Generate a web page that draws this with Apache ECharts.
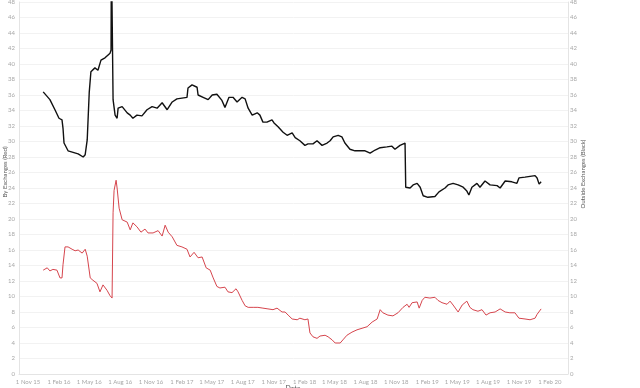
<!DOCTYPE html>
<html>
<head>
<meta charset="utf-8">
<script src="https://cdn.jsdelivr.net/npm/echarts@6/dist/echarts.min.js"></script>
<style>html,body{margin:0;padding:0;background:#fff}#c{width:640px;height:388px}</style>
</head>
<body>
<div id="c"></div>
<script>
// ---- data ----
var blackDates = ['2015-12-16','2016-01-05','2016-01-20','2016-02-01','2016-02-10','2016-02-13','2016-02-16','2016-02-28','2016-03-14','2016-03-29','2016-04-13','2016-04-19','2016-04-25','2016-05-01','2016-05-06','2016-05-18','2016-05-27','2016-06-05','2016-06-17','2016-07-02','2016-07-05','2016-07-06','2016-07-11','2016-07-17','2016-07-23','2016-07-26','2016-08-07','2016-08-22','2016-08-31','2016-09-08','2016-09-20','2016-10-05','2016-10-20','2016-11-04','2016-11-19','2016-12-04','2016-12-19','2017-01-03','2017-01-17','2017-02-01','2017-02-16','2017-02-19','2017-03-03','2017-03-18','2017-03-21','2017-04-05','2017-04-20','2017-05-02','2017-05-16','2017-05-31','2017-06-09','2017-06-21','2017-07-03','2017-07-15','2017-07-30','2017-08-08','2017-08-17','2017-08-29','2017-09-13','2017-09-21','2017-09-30','2017-10-12','2017-10-27','2017-11-02','2017-11-14','2017-11-29','2017-12-11','2017-12-26','2018-01-04','2018-01-18','2018-02-02','2018-02-11','2018-02-26','2018-03-10','2018-03-25','2018-04-09','2018-04-18','2018-04-27','2018-05-12','2018-05-23','2018-06-01','2018-06-16','2018-07-01','2018-07-16','2018-07-31','2018-08-15','2018-08-30','2018-09-14','2018-10-04','2018-10-19','2018-10-28','2018-11-12','2018-11-27','2018-11-29','2018-12-12','2018-12-21','2019-01-02','2019-01-11','2019-01-20','2019-02-03','2019-02-24','2019-03-08','2019-03-26','2019-04-04','2019-04-19','2019-05-04','2019-05-19','2019-05-30','2019-06-05','2019-06-14','2019-06-29','2019-07-08','2019-07-23','2019-08-07','2019-08-28','2019-09-06','2019-09-21','2019-10-11','2019-10-26','2019-11-01','2019-11-19','2019-12-04','2019-12-19','2019-12-25','2019-12-31','2020-01-06'];
var blackValues = [36.4,35.4,34.1,33.0,32.8,31.7,29.8,28.8,28.6,28.4,28.0,28.3,30.2,36.3,39.0,39.5,39.2,40.5,40.8,41.4,41.8,55,35.4,33.4,33.0,34.3,34.5,33.7,33.4,33.0,33.4,33.3,34.1,34.5,34.3,35.0,34.1,35.1,35.5,35.6,35.7,36.9,37.3,37.0,36.0,35.7,35.4,36.0,36.1,35.3,34.4,35.7,35.7,35.1,35.7,35.5,34.3,33.4,33.7,33.4,32.5,32.5,32.8,32.4,31.9,31.2,30.8,31.1,30.5,30.1,29.5,29.7,29.7,30.1,29.5,29.8,30.1,30.6,30.8,30.6,29.8,29.0,28.8,28.8,28.8,28.5,28.9,29.2,29.3,29.4,29.0,29.5,29.8,24.1,24.0,24.4,24.6,24.1,23.0,22.8,22.9,23.5,24.0,24.4,24.6,24.4,24.1,23.6,23.1,24.1,24.6,24.1,24.9,24.4,24.3,24.0,24.9,24.8,24.6,25.3,25.4,25.5,25.6,25.3,24.5,24.8];

var redDates = ['2015-12-16','2015-12-28','2016-01-05','2016-01-14','2016-01-26','2016-02-04','2016-02-10','2016-02-13','2016-02-19','2016-02-28','2016-03-11','2016-03-20','2016-03-29','2016-04-10','2016-04-19','2016-04-25','2016-05-04','2016-05-12','2016-05-24','2016-06-02','2016-06-11','2016-06-23','2016-07-02','2016-07-08','2016-07-11','2016-07-14','2016-07-20','2016-07-23','2016-07-29','2016-08-07','2016-08-22','2016-08-31','2016-09-08','2016-09-20','2016-10-02','2016-10-14','2016-10-23','2016-11-07','2016-11-22','2016-12-04','2016-12-13','2016-12-22','2017-01-03','2017-01-17','2017-02-01','2017-02-16','2017-02-25','2017-03-09','2017-03-21','2017-04-02','2017-04-14','2017-04-26','2017-05-05','2017-05-16','2017-05-25','2017-06-09','2017-06-18','2017-06-30','2017-07-12','2017-07-18','2017-07-30','2017-08-08','2017-08-17','2017-09-01','2017-09-15','2017-09-30','2017-10-15','2017-10-30','2017-11-11','2017-11-26','2017-12-05','2017-12-14','2017-12-26','2018-01-10','2018-01-18','2018-02-02','2018-02-11','2018-02-17','2018-02-26','2018-03-10','2018-03-19','2018-04-03','2018-04-12','2018-04-24','2018-05-03','2018-05-18','2018-05-26','2018-06-07','2018-06-22','2018-07-07','2018-07-22','2018-08-06','2018-08-21','2018-09-05','2018-09-14','2018-09-22','2018-10-07','2018-10-22','2018-11-06','2018-11-21','2018-12-03','2018-12-09','2018-12-18','2019-01-02','2019-01-08','2019-01-17','2019-01-25','2019-02-09','2019-02-24','2019-03-05','2019-03-17','2019-04-01','2019-04-10','2019-04-19','2019-05-04','2019-05-16','2019-05-30','2019-06-08','2019-06-17','2019-07-02','2019-07-14','2019-07-26','2019-08-07','2019-08-22','2019-09-06','2019-09-21','2019-10-05','2019-10-20','2019-11-01','2019-11-19','2019-12-04','2019-12-19','2019-12-25','2020-01-06'];
var redValues = [13.4,13.7,13.3,13.5,13.4,12.4,12.4,14.1,16.4,16.4,16.1,15.9,16.0,15.6,16.1,15.2,12.4,12.1,11.7,10.6,11.5,10.8,10.1,9.8,20.8,23.7,25.0,24.0,21.4,19.9,19.6,18.6,19.5,19.0,18.3,18.7,18.2,18.2,18.5,17.8,19.2,18.3,17.7,16.6,16.4,16.1,15.1,15.7,15.0,15.1,13.7,13.4,12.4,11.3,11.1,11.2,10.6,10.5,11.0,10.6,9.5,8.8,8.6,8.6,8.6,8.5,8.4,8.3,8.5,8.0,8.0,7.6,7.1,7.0,7.2,7.0,7.1,5.3,4.8,4.6,4.9,5.0,4.8,4.4,4.0,4.0,4.4,5.0,5.4,5.7,5.9,6.1,6.7,7.1,8.3,7.9,7.6,7.5,7.9,8.6,9.0,8.6,9.2,9.3,8.5,9.5,9.9,9.8,9.9,9.5,9.2,9.0,9.4,8.9,8.0,8.9,9.4,8.6,8.3,8.1,8.3,7.6,7.9,8.0,8.4,8.0,7.9,7.9,7.2,7.1,7.0,7.2,7.7,8.4];

var tickDates = ['2015-11-01','2016-02-01','2016-05-01','2016-08-01','2016-11-01','2017-02-01','2017-05-01','2017-08-01','2017-11-01','2018-02-01','2018-05-01','2018-08-01','2018-11-01','2019-02-01','2019-05-01','2019-08-01','2019-11-01','2020-02-01'];
var tickLabels = ['1 Nov 15','1 Feb 16','1 May 16','1 Aug 16','1 Nov 16','1 Feb 17','1 May 17','1 Aug 17','1 Nov 17','1 Feb 18','1 May 18','1 Aug 18','1 Nov 18','1 Feb 19','1 May 19','1 Aug 19','1 Nov 19','1 Feb 20'];

var leftTitle = 'By Exchanges (Red)';
var rightTitle = 'Outside Exchanges (Black)';
var xTitle = 'Date';

// ---- build ----
function ts(s){ var p = s.split('-'); return Date.UTC(+p[0], +p[1]-1, +p[2]); }
var tickTs = tickDates.map(ts);
function zip(d, v){ return d.map(function(x,i){ return [ts(x), v[i]]; }); }
function labelFor(v){
  var best=0,bd=Infinity;
  tickTs.forEach(function(t,j){var d=Math.abs(t-v); if(d<bd){bd=d;best=j;}});
  return bd < 86400000 ? tickLabels[best] : '';
}

var chart = echarts.init(document.getElementById('c'), null, {renderer:'canvas'});
var labelStyle = {color:'#a8a8a8', fontSize:6, fontFamily:'Lato, "Open Sans", sans-serif'};
chart.setOption({
  animation:false,
  backgroundColor:'#ffffff',
  grid:{left:19, right:72, top:2, bottom:14, containLabel:false, outerBoundsMode:'none'},
  xAxis:{
    type:'value',
    scale:true,
    min: ts('2015-10-05'), max: ts('2020-03-26'),
    axisLine:{show:true, onZero:false, lineStyle:{color:'#e4e4e4', width:1}},
    axisTick:{show:false},
    splitLine:{show:false},
    axisLabel:Object.assign({
      customValues: tickTs,
      hideOverlap:false,
      margin:5,
      formatter:labelFor
    }, labelStyle)
  },
  yAxis:[
    {type:'value', min:0, max:48, interval:2, position:'left',
     axisLine:{show:true, lineStyle:{color:'#e4e4e4'}}, axisTick:{show:false},
     splitLine:{show:true, lineStyle:{color:'#f2f2f2', width:1}},
     axisLabel:Object.assign({margin:4}, labelStyle)},
    {type:'value', min:0, max:48, interval:2, position:'right',
     axisLine:{show:true, lineStyle:{color:'#e4e4e4'}}, axisTick:{show:false},
     splitLine:{show:false},
     axisLabel:Object.assign({margin:2}, labelStyle)}
  ],
  graphic:[
    {type:'text', x:5, y:172, rotation:Math.PI/2, style:{text:leftTitle, fill:'#555', font:'6px Lato, sans-serif', textAlign:'center', textVerticalAlign:'middle'}},
    {type:'text', x:583, y:174, rotation:Math.PI/2, style:{text:rightTitle, fill:'#555', font:'6px Lato, sans-serif', textAlign:'center', textVerticalAlign:'middle'}},
    {type:'text', x:293, y:385, style:{text:xTitle, fill:'#555', font:'7px Lato, sans-serif', textAlign:'center', textVerticalAlign:'top'}}
  ],
  series:[
    {name:'By Exchanges', type:'line', yAxisIndex:0, data:zip(redDates, redValues), showSymbol:false, clip:true,
     lineStyle:{color:'#d6454d', width:1}},
    {name:'Outside Exchanges', type:'line', yAxisIndex:1, data:zip(blackDates, blackValues), showSymbol:false, clip:true,
     lineStyle:{color:'#111111', width:1.4}}
  ]
});
</script>
</body>
</html>
